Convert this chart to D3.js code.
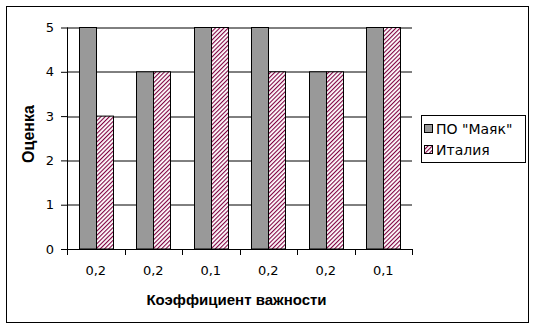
<!DOCTYPE html>
<html>
<head>
<meta charset="utf-8">
<script src="https://cdn.jsdelivr.net/npm/d3@7"></script>
<style>
  body { margin: 0; background: #fff; }
  text { font-family: "DejaVu Sans", Arial, sans-serif; }
  .title { font-family: "Liberation Sans", Arial, sans-serif; font-weight: bold; }
</style>
</head>
<body>
<div id="canvas"></div>
<script>
// data
var categories = ['0,2', '0,2', '0,1', '0,2', '0,2', '0,1'];
var mayak = [5, 4, 5, 5, 4, 5];
var italy = [3, 4, 5, 4, 4, 5];
var seriesNames = ['ПО "Маяк"', 'Италия'];
var yTicks = [0, 1, 2, 3, 4, 5];

var W = 534, H = 330;
var m = {t: 27.5, l: 67, r: 122, b: 81};
var w = W - m.l - m.r, h = H - m.t - m.b;

var svg = d3.select('#canvas').append('svg')
    .attr('width', W).attr('height', H);

// hatch pattern for the second series
var defs = svg.append('defs');
var pat = defs.append('pattern')
    .attr('id', 'hatch')
    .attr('patternUnits', 'userSpaceOnUse')
    .attr('width', 3).attr('height', 3)
    .attr('patternTransform', 'rotate(45)');
pat.append('rect').attr('width', 3).attr('height', 3).attr('fill', '#fff');
pat.append('rect').attr('width', 1.1).attr('height', 3).attr('fill', '#800040');

// outer frame
svg.append('rect')
    .attr('x', 6.5).attr('y', 6.5)
    .attr('width', 522).attr('height', 316)
    .attr('fill', 'none').attr('stroke', '#000');

var plot = svg.append('g')
    .attr('transform', 'translate(' + m.l + ',' + m.t + ')');

var x = d3.scaleBand().domain(d3.range(categories.length)).range([0, w]);
var y = d3.scaleLinear().domain([0, 5]).range([h, 0]);
var barW = 17;

// gridlines
plot.selectAll('.grid').data(yTicks.slice(1)).enter().append('line')
    .attr('x1', 0).attr('x2', w)
    .attr('y1', function(d){ return Math.round(y(d)) + 0.5; })
    .attr('y2', function(d){ return Math.round(y(d)) + 0.5; })
    .attr('stroke', '#000');

// bars
var groups = plot.selectAll('.grp').data(categories).enter().append('g')
    .attr('transform', function(d, i){ return 'translate(' + Math.round(x(i) + x.bandwidth() / 2) + ',0)'; });

groups.append('rect')
    .attr('x', -barW + 0.5).attr('width', barW)
    .attr('y', function(d, i){ return y(mayak[i]); })
    .attr('height', function(d, i){ return h - y(mayak[i]); })
    .attr('fill', '#999999').attr('stroke', '#000').attr('stroke-width', 1);

groups.append('rect')
    .attr('x', 0.5).attr('width', barW)
    .attr('y', function(d, i){ return y(italy[i]); })
    .attr('height', function(d, i){ return h - y(italy[i]); })
    .attr('fill', 'url(#hatch)').attr('stroke', '#000').attr('stroke-width', 1);

// y axis
var axisY = d3.axisLeft(y).tickValues(yTicks).tickFormat(d3.format('d'))
    .tickSize(6).tickPadding(7);
var gy = plot.append('g').call(axisY);
gy.select('.domain').attr('d', 'M0.5,0V' + h);
gy.selectAll('.tick line').attr('x1', 0.5).attr('stroke', '#000');
gy.selectAll('.tick text').attr('font-size', 13).attr('fill', '#000')
    .attr('font-family', '"DejaVu Sans", sans-serif');

// x axis
var gx = plot.append('g')
    .attr('transform', 'translate(0,' + h + ')');
gx.append('line').attr('x1', 0).attr('x2', w).attr('y1', 0.5).attr('y2', 0.5).attr('stroke', '#000');
var tickPos = d3.range(categories.length + 1).map(function(i){ return i * x.step(); });
gx.selectAll('.tk').data(tickPos).enter().append('line')
    .attr('x1', function(d){ return Math.round(d) + 0.5; })
    .attr('x2', function(d){ return Math.round(d) + 0.5; })
    .attr('y1', 0).attr('y2', 6).attr('stroke', '#000');
gx.selectAll('.lbl').data(categories).enter().append('text')
    .attr('x', function(d, i){ return x(i) + x.bandwidth() / 2; })
    .attr('y', 26)
    .attr('text-anchor', 'middle')
    .attr('font-size', 13)
    .text(function(d){ return d; });

// axis titles
svg.append('text').attr('class', 'title')
    .attr('x', m.l + w / 2 - 3).attr('y', 305)
    .attr('text-anchor', 'middle')
    .attr('font-size', 15)
    .text('Коэффициент важности');

svg.append('text').attr('class', 'title')
    .attr('transform', 'translate(34,134) rotate(-90)')
    .attr('text-anchor', 'middle')
    .attr('font-size', 16)
    .text('Оценка');

// legend
var lg = svg.append('g').attr('transform', 'translate(421,115)');
lg.append('rect').attr('x', 0.5).attr('y', 0.5).attr('width', 104).attr('height', 47)
    .attr('fill', '#fff').attr('stroke', '#000');
var items = lg.selectAll('.it').data(seriesNames).enter().append('g')
    .attr('transform', function(d, i){ return 'translate(3,' + (9 + i * 21) + ')'; });
items.append('rect').attr('x', 0.5).attr('y', 0.5).attr('width', 8).attr('height', 8)
    .attr('stroke', '#000')
    .attr('fill', function(d, i){ return i === 0 ? '#999999' : 'url(#hatch)'; });
items.append('text').attr('x', 12).attr('y', 10)
    .attr('font-size', 14)
    .text(function(d){ return d; });
</script>
</body>
</html>
